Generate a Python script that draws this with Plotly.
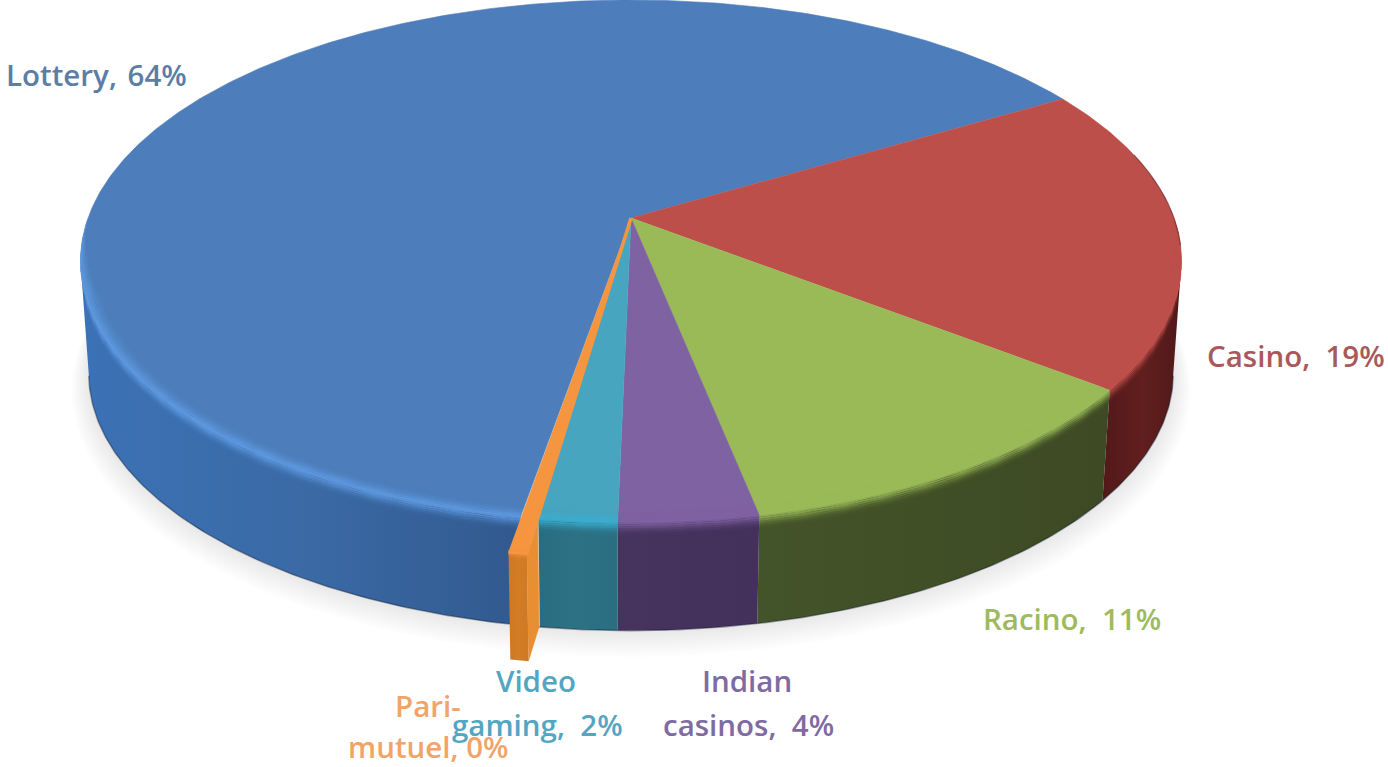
import numpy as np
import plotly.graph_objects as go

# ---------------------------------------------------------------------------
# Data (clockwise, starting from the Lottery / Casino boundary)
# ---------------------------------------------------------------------------
CATEGORIES = ["Casino", "Racino", "Indian casinos", "Video gaming", "Pari-mutuel", "Lottery"]
SHARES = [18.9, 11.4, 3.5, 1.95, 0.45, 63.8]
EXPLODE = [0, 0, 0, 0, 0.095, 0]

# ---------------------------------------------------------------------------
# Colours
# ---------------------------------------------------------------------------
FACE_COLORS = ["#bd4f4b", "#9aba58", "#7f62a1", "#47a5c0", "#f59540", "#4d7ebb"]
HIGHLIGHTS = ["#bd4f4b", "#9aba58", "#7f62a1", "#3aadcf", "#f79646", "#5f9ae2"]
WALL_SCALES = [
    ["#52191a", "#611f1e", "#4f1918"],
    ["#44542a", "#404f26", "#3d4a24"],
    ["#46345f", "#44325c", "#43315b"],
    ["#2a6d80", "#2c7184", "#2b6e82"],
    ["#cd7823", "#d47d27", "#cf7924"],
    ["#3b72b6", "#3b6aa5", "#31598f"],
]
LABEL_COLORS = ["#a9595b", "#9dba60", "#7f6aa3", "#52a6c2", "#f0a468", "#5b7da6"]

# label lines: text, x, y, anchor, colour index
LABEL_LINES = [
    ("Casino,\u00a0 19%", 1206, 355, "left", 0),
    ("Racino,\u00a0 11%", 982, 618, "left", 1),
    ("Indian", 747, 680, "center", 2),
    ("casinos,\u00a0 4%", 748, 724, "center", 2),
    ("Pari-", 428, 705, "center", 4),
    ("mutuel,\u00a00%", 428, 746, "center", 4),
    ("Video", 536, 680, "center", 3),
    ("gaming,\u00a0 2%", 537, 724, "center", 3),
    ("Lottery,\u00a0\u200a64%", 5, 74, "left", 5),
]

# ---------------------------------------------------------------------------
# Perspective of the disc
# ---------------------------------------------------------------------------
CX, CY = 631, 218      # where the pie centre lands on the page
RX, RY = 543, 254
PERSP = 0.165
DEPTH = 113            # wall height in px
SHRINK = 0.015         # bottom of the wall is a bit narrower
START = 30.5           # degrees, counter-clockwise from 3 o'clock

W, H = 1388, 767


def project(theta, r=1.0, z=0.0, off=(0.0, 0.0)):
    t = np.radians(theta)
    x = r * np.cos(t) + off[0]
    y = r * np.sin(t) + off[1]
    w = 1 + PERSP * y
    s = 1 - SHRINK * z
    return CX + s * RX * x / w, CY + DEPTH * z - s * RY * y / w


def poly(xs, ys, color=None, gradient=None, line=0.6, text=None):
    fig.add_trace(go.Scatter(
        x=np.asarray(xs), y=np.asarray(ys), mode="lines", fill="toself",
        fillcolor=color, fillgradient=gradient,
        line=dict(width=line if color else 0, color=color or "rgba(0,0,0,0)"),
        hoverinfo="text" if text else "skip", text=text, showlegend=False,
    ))


def angles(a0, a1, step=0.5):
    n = max(int(abs(a1 - a0) / step), 2)
    return np.linspace(a0, a1, n)


def wall(a0, a1, scale, off=(0.0, 0.0)):
    # only the near side of the cylinder can be seen, up to the outline's widest points
    widest = np.degrees(np.arcsin(PERSP))
    a0, a1 = min(a0, -widest), max(a1, widest - 180)
    if a0 <= a1:
        return
    th = angles(a0, a1)
    tx, ty = project(th, off=off)
    bx, by = project(th[::-1], z=1, off=off)
    stops = np.linspace(0, 1, len(scale))
    poly(np.r_[tx, bx], np.r_[ty, by], gradient=dict(
        type="horizontal", colorscale=[[float(p), c] for p, c in zip(stops, scale)]))


def rgba(hex_color, alpha):
    r, g, b = (int(hex_color[i:i + 2], 16) for i in (1, 3, 5))
    return f"rgba({r},{g},{b},{alpha})"


def bevel(a0, a1, color, off=(0.0, 0.0), dr=0.03, dz=0.13, peak=0.9):
    a0, a1 = min(a0, 0), max(a1, -180)
    if a0 <= a1:
        return
    th = angles(a0, a1)
    taper = np.clip(-np.sin(np.radians(th)) / 0.3, 0, 1)
    # radial part on the face, then down on to the wall: -1 .. 0 .. 1
    u = np.linspace(-1, 1, 15)
    for p, q in zip(u[:-1], u[1:]):
        al = peak * np.exp(-(((p + q) / 2) / 0.5) ** 2)
        x0, y0 = project(th, r=1 - dr * max(-p, 0) * taper, z=dz * max(p, 0) * taper, off=off)
        x1, y1 = project(th[::-1], r=1 - dr * max(-q, 0) * taper[::-1],
                         z=dz * max(q, 0) * taper[::-1], off=off)
        poly(np.r_[x0, x1], np.r_[y0, y1], color=rgba(color, round(float(al), 3)), line=0)


# ---------------------------------------------------------------------------
# Slices
# ---------------------------------------------------------------------------
edges = START - np.cumsum([0] + SHARES) * 3.6
bounds = list(zip(edges[:-1], edges[1:]))

fig = go.Figure()

# soft shadow under the disc
th_all = angles(0, 360, 2)
for i in range(12):
    sx_, sy_ = project(th_all, r=1 + 0.003 * i, z=1 + 0.012 * i)
    poly(sx_, sy_, color="rgba(70,55,45,0.013)", line=0)

order = [5, 0, 1, 2, 3]      # the exploded sliver goes on last
for i in order:
    wall(bounds[i][0], bounds[i][1], WALL_SCALES[i])

# dark line along the foot of the wall
lx, ly = project(angles(-10, -170), z=1)
fig.add_trace(go.Scatter(x=lx, y=ly, mode="lines", hoverinfo="skip", showlegend=False,
                         line=dict(color="rgba(15,25,45,0.4)", width=1.5)))

for i in order:
    a0, a1 = bounds[i]
    th = angles(a0, a1)
    x_, y_ = project(th)
    poly(np.r_[CX, x_], np.r_[CY, y_], color=FACE_COLORS[i],
         text=f"{CATEGORIES[i]}: {SHARES[i]:.0f}%")

for i in order:
    bevel(bounds[i][0], bounds[i][1], HIGHLIGHTS[i])

# dark rim where the casino slice rolls over the far right
rx_, ry_ = project(angles(15, -6))
fig.add_trace(go.Scatter(x=rx_, y=ry_, mode="lines", hoverinfo="skip", showlegend=False,
                         line=dict(color="rgba(90,30,30,0.5)", width=1.2)))

# exploded sliver
i = CATEGORIES.index("Pari-mutuel")
a0, a1 = bounds[i]
mid = np.radians((a0 + a1) / 2)
off = (EXPLODE[i] * np.cos(mid), EXPLODE[i] * np.sin(mid))

# right-hand cut face, only the part standing clear of the pie
cut_r = np.array([1.0, 1.0 - EXPLODE[i], 1.0 - EXPLODE[i], 1.0])
cut_z = np.array([0.0, 0.0, 1.0, 1.0])
cx_, cy_ = project(a0, r=cut_r, z=cut_z, off=off)
poly(cx_, cy_, color="#e88f33")

wall(a0, a1, WALL_SCALES[i], off=off)

th = angles(a0, a1, 0.2)
x_, y_ = project(th, off=off)
poly(np.r_[CX, x_], np.r_[CY, y_], color=FACE_COLORS[i], line=3.5,
     text=f"{CATEGORIES[i]}: {SHARES[i]:.0f}%")
bevel(a0, a1, HIGHLIGHTS[i], off=off, dr=0.01, dz=0.07)

# ---------------------------------------------------------------------------
# Labels
# ---------------------------------------------------------------------------
for text, x, y, anchor, c in LABEL_LINES:
    fig.add_annotation(x=x, y=y, text=text, showarrow=False, xanchor=anchor, yanchor="middle",
                       xref="x", yref="y", borderpad=0,
                       font=dict(family="Open Sans", size=29.5, weight=600, color=LABEL_COLORS[c]))

fig.update_layout(
    width=W, height=H,
    margin=dict(l=0, r=0, t=0, b=0),
    paper_bgcolor="white", plot_bgcolor="white",
    showlegend=False,
    xaxis=dict(range=[0, W], visible=False, fixedrange=True),
    yaxis=dict(range=[H, 0], visible=False, fixedrange=True),
)

fig.write_html("out.html", config=dict(displayModeBar=False),
               post_script="document.body.style.margin='0';")
